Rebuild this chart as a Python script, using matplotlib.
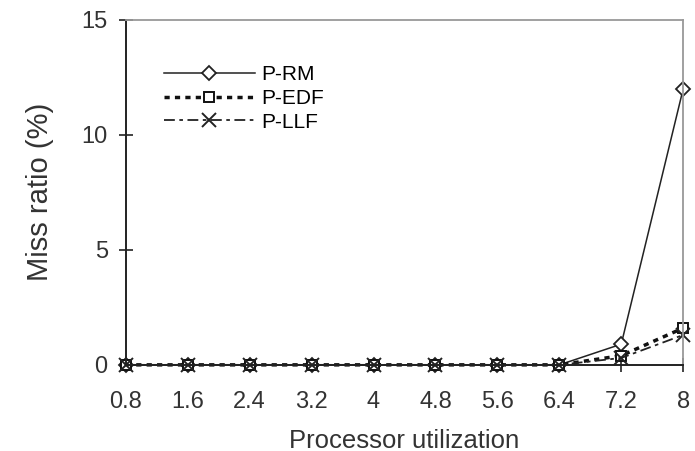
import numpy as np
import matplotlib.pyplot as plt

plt.rcParams['font.family'] = ['Liberation Sans', 'DejaVu Sans']

# x categories (processor utilization)
util = ['0.8', '1.6', '2.4', '3.2', '4', '4.8', '5.6', '6.4', '7.2', '8']
p_rm = [0, 0, 0, 0, 0, 0, 0, 0, 0.9, 12.0]
p_edf = [0, 0, 0, 0, 0, 0, 0, 0, 0.4, 1.6]
p_llf = [0, 0, 0, 0, 0, 0, 0, 0, 0.3, 1.3]

fig = plt.figure(figsize=(6.95, 4.51), dpi=100)
ax = fig.add_axes([0.181, 0.191, 0.802, 0.765])

x = np.arange(len(util))
ax.plot(x, p_rm, color='#222222', lw=1.1, marker='D', ms=7,
        mfc='white', mec='#222222', mew=1.3, label='P-RM', clip_on=False)
ax.plot(x, p_edf, color='#111111', lw=2.5, ls=(0, (1.5, 1.5)), marker='s', ms=7,
        mfc='white', mec='#111111', mew=1.4, label='P-EDF', clip_on=False)
ax.plot(x, p_llf, color='#222222', lw=1.3, ls=(0, (6, 2.5, 2, 2.5)), marker='x', ms=10,
        mew=1.4, label='P-LLF', clip_on=False)

ax.set_xlim(0, len(util) - 1)
ax.set_ylim(0, 15)
ax.set_xticks(x)
ax.set_xticklabels(util)
ax.set_yticks([0, 5, 10, 15])
ax.tick_params(direction='inout', length=10, width=1.2, labelsize=17, colors='#222222',
               labelcolor='#333333')
ax.tick_params(axis='x', pad=14)
ax.tick_params(axis='y', pad=8)
for s in ['left', 'bottom']:
    ax.spines[s].set_linewidth(1.4)
    ax.spines[s].set_color('#222222')
for s in ['top', 'right']:
    ax.spines[s].set_color('#999999')
    ax.spines[s].set_linewidth(1.3)

ax.set_xlabel('Processor utilization', fontsize=18.5, color='#333333', labelpad=11)
ax.set_ylabel('Miss ratio (%)', fontsize=21, color='#333333', labelpad=20)

ax.legend(loc='upper left', bbox_to_anchor=(0.049, 0.898), frameon=False, fontsize=15,
          handlelength=4.4, handletextpad=0.3, labelspacing=0.22, borderpad=0)

fig.savefig('out.png', dpi=100)
